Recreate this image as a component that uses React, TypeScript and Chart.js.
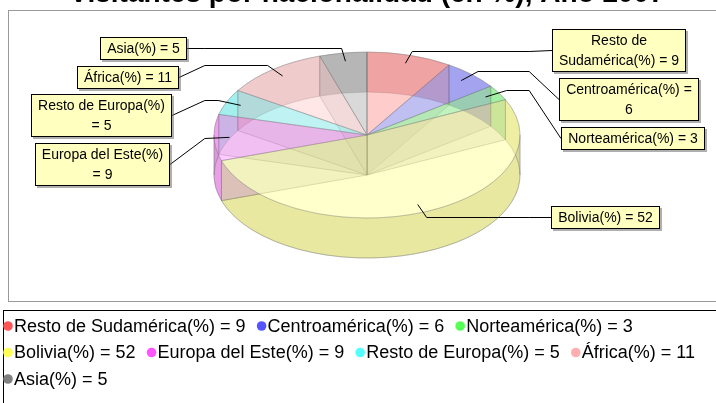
import React, { useEffect, useRef } from 'react';
import { Chart, registerables } from 'chart.js';

Chart.register(...registerables);

// ---- data ----
const TITLE = 'Visitantes por nacionalidad (en %), Año 2007';
const CATEGORIES = ['Resto de Sudamérica', 'Centroamérica', 'Norteamérica', 'Bolivia', 'Europa del Este', 'Resto de Europa', 'África', 'Asia'];
const VALUES = [9, 6, 3, 52, 9, 5, 11, 5];
const COLORS = ['#FF5555', '#5555FF', '#55FF55', '#FFFF55', '#FF55FF', '#55FFFF', '#FFAFAF', '#808080'];

// ---- label / legend layout (placement only) ----
const LABEL_Y = [50, 99, 138, 217, 164, 115, 77, 48];
const LABEL_GAP = [23, 30, 32, 22, 35, 33, 26, 18];
const LABEL_BREAK = [2, 2, 0, 0, 3, 3, 0, 0];
const LEGEND_ROWS = [3, 4, 1];

// ---- geometry / style ----
const W = 716;
const H = 403;
const RADIUS = 153;
const TILT = 83 / 153;
const DEPTH = 40;
const ALPHA = 0.3;
const FONT = '"Liberation Sans", Arial, sans-serif';

function rgb(hex: string): [number, number, number] {
  const n = parseInt(hex.slice(1), 16);
  return [(n >> 16) & 255, (n >> 8) & 255, n & 255];
}
function rgba(hex: string, a: number, f = 1): string {
  const [r, g, b] = rgb(hex);
  return `rgba(${Math.round(r * f)},${Math.round(g * f)},${Math.round(b * f)},${a})`;
}
function labelText(i: number) {
  return `${CATEGORIES[i]}(%) = ${VALUES[i]}`;
}
function labelLines(i: number): string[] {
  const words = labelText(i).split(' ');
  const b = LABEL_BREAK[i];
  return b ? [words.slice(0, b).join(' '), words.slice(b).join(' ')] : [words.join(' ')];
}

const OUTLINE = 'rgba(128,128,128,0.35)';

const pie3d = {
  id: 'pie3d',
  beforeDraw(chart: any) {
    const ctx = chart.ctx as CanvasRenderingContext2D;
    ctx.save();
    ctx.fillStyle = '#fff';
    ctx.fillRect(0, 0, W, H);
    ctx.strokeStyle = '#9a9a9a';
    ctx.lineWidth = 1;
    ctx.strokeRect(8.5, 10.5, 730, 291);
    ctx.restore();
  },
  beforeDatasetsDraw(chart: any) {
    const ctx = chart.ctx as CanvasRenderingContext2D;
    const arcs = chart.getDatasetMeta(0).data as any[];
    const cx = arcs[0].x, cy = arcs[0].y, rx = arcs[0].outerRadius;
    const ry = rx * TILT;
    const d = DEPTH;
    ctx.save();
    ctx.lineWidth = 1;
    ctx.strokeStyle = OUTLINE;
    // bottoms (visible only outside top ellipse)
    ctx.save();
    ctx.beginPath();
    ctx.rect(0, 0, W, H);
    ctx.ellipse(cx, cy, rx, ry, 0, 0, Math.PI * 2);
    ctx.clip('evenodd');
    arcs.forEach((a, i) => {
      ctx.beginPath();
      ctx.moveTo(cx, cy + d);
      ctx.ellipse(cx, cy + d, rx, ry, 0, a.startAngle, a.endAngle);
      ctx.closePath();
      ctx.fillStyle = rgba(COLORS[i], ALPHA);
      ctx.fill();
      ctx.stroke();
    });
    ctx.restore();
    // radial walls
    arcs.forEach((a) => {
      const px = cx + Math.cos(a.startAngle) * rx;
      const py = cy + Math.sin(a.startAngle) * ry;
      ctx.beginPath();
      ctx.moveTo(cx, cy + d);
      ctx.lineTo(cx, cy);
      ctx.lineTo(px, py);
      ctx.lineTo(px, py + d);
      ctx.closePath();
      ctx.fillStyle = `rgba(192,192,192,${ALPHA})`;
      ctx.fill();
      ctx.stroke();
    });
    // curved sides
    arcs.forEach((a, i) => {
      const s0 = a.startAngle, e0 = a.endAngle;
      const cuts = [s0];
      let k = Math.ceil(s0 / Math.PI) * Math.PI;
      if (k <= s0) k += Math.PI;
      while (k < e0) { cuts.push(k); k += Math.PI; }
      cuts.push(e0);
      for (let j = 0; j < cuts.length - 1; j++) {
        const s = cuts[j], e = cuts[j + 1];
        ctx.beginPath();
        ctx.ellipse(cx, cy, rx, ry, 0, s, e, false);
        ctx.lineTo(cx + Math.cos(e) * rx, cy + Math.sin(e) * ry + d);
        ctx.ellipse(cx, cy + d, rx, ry, 0, e, s, true);
        ctx.closePath();
        ctx.fillStyle = rgba(COLORS[i], ALPHA, 0.7);
        ctx.fill();
        ctx.stroke();
      }
    });
    ctx.restore();
  },
  beforeDatasetDraw(chart: any) {
    const ctx = chart.ctx as CanvasRenderingContext2D;
    const a = chart.getDatasetMeta(0).data[0];
    ctx.save();
    ctx.translate(a.x, a.y);
    ctx.scale(1, TILT);
    ctx.translate(-a.x, -a.y);
  },
  afterDatasetDraw(chart: any) {
    chart.ctx.restore();
  },
  afterDraw(chart: any) {
    const ctx = chart.ctx as CanvasRenderingContext2D;
    const arcs = chart.getDatasetMeta(0).data as any[];
    const cx = arcs[0].x, cy = arcs[0].y, rx = arcs[0].outerRadius;
    const ry = rx * TILT;
    ctx.save();
    // labels
    const LINE_H = 20;
    arcs.forEach((a, i) => {
      const mid = (a.startAngle + a.endAngle) / 2;
      const c = Math.cos(mid), s = Math.sin(mid);
      const ax = cx + c * rx * 0.9, ay = cy + s * ry * 0.9;
      const ex = cx + c * rx * 1.06, ey = Math.round(cy + s * ry * 1.06) + 0.5;
      const right = c >= 0;
      const linkX = cx + (right ? 1 : -1) * rx * 1.06;
      const lines = labelLines(i);
      ctx.font = `14px ${FONT}`;
      const tw = Math.max(...lines.map((l) => ctx.measureText(l).width));
      const bw = Math.round(tw + 14);
      const bh = lines.length * LINE_H + 3;
      const by = LABEL_Y[i];
      const edge = Math.round(right ? linkX + LABEL_GAP[i] : linkX - LABEL_GAP[i]);
      const bx = right ? edge : edge - bw;
      const top = Math.round(by - bh / 2);
      ctx.strokeStyle = '#000';
      ctx.lineWidth = 1;
      ctx.beginPath();
      ctx.moveTo(ax, ay);
      ctx.lineTo(ex, ey);
      ctx.lineTo(linkX, ey);
      ctx.lineTo(edge, by + 0.5);
      ctx.stroke();
      ctx.fillStyle = 'rgba(110,110,110,0.55)';
      ctx.fillRect(bx + 2, top + 2, bw, bh);
      ctx.fillStyle = 'rgb(255,255,192)';
      ctx.fillRect(bx, top, bw, bh);
      ctx.strokeStyle = '#000';
      ctx.strokeRect(bx + 0.5, top + 0.5, bw - 1, bh - 1);
      ctx.fillStyle = '#000';
      ctx.textAlign = 'center';
      ctx.textBaseline = 'middle';
      lines.forEach((l, k) => ctx.fillText(l, bx + bw / 2, top + 2 + LINE_H * (k + 0.5)));
    });
    // legend
    ctx.strokeStyle = '#000';
    ctx.lineWidth = 1;
    ctx.strokeRect(3.5, 310.5, 740, 200);
    ctx.font = `18px ${FONT}`;
    ctx.textAlign = 'left';
    ctx.textBaseline = 'middle';
    let idx = 0;
    LEGEND_ROWS.forEach((n, r) => {
      let x = 8;
      const y = 326 + r * 26.5;
      for (let j = 0; j < n; j++, idx++) {
        ctx.fillStyle = COLORS[idx];
        ctx.beginPath();
        ctx.arc(x, y, 4.8, 0, Math.PI * 2);
        ctx.fill();
        ctx.fillStyle = '#000';
        const t = labelText(idx);
        ctx.fillText(t, x + 6, y + 1);
        x += 6 + ctx.measureText(t).width + 16;
      }
    });
    // title (cut at top edge)
    ctx.font = `bold 28px ${FONT}`;
    ctx.textAlign = 'center';
    ctx.textBaseline = 'alphabetic';
    ctx.fillStyle = '#000';
    ctx.fillText(TITLE, 367, 2);
    ctx.restore();
  },
};

export default function App() {
  const ref = useRef<HTMLCanvasElement>(null);
  useEffect(() => {
    const chart = new Chart(ref.current as HTMLCanvasElement, {
      type: 'pie',
      data: {
        labels: CATEGORIES,
        datasets: [
          {
            data: VALUES,
            backgroundColor: COLORS.map((c) => rgba(c, ALPHA)),
            borderColor: OUTLINE,
            borderWidth: 1,
            radius: RADIUS,
            clip: false,
          } as any,
        ],
      },
      options: {
        responsive: false,
        animation: false,
        events: [],
        layout: { padding: { left: 214, right: 196, top: 55, bottom: 188 } },
        plugins: { legend: { display: false }, title: { display: false }, tooltip: { enabled: false } },
      },
      plugins: [pie3d as any],
    });
    return () => chart.destroy();
  }, []);
  return (
    <div style={{ position: 'absolute', left: 0, top: 0, width: W, height: H, background: '#fff' }}>
      <canvas ref={ref} width={W} height={H} style={{ display: 'block', width: W, height: H }} />
    </div>
  );
}
